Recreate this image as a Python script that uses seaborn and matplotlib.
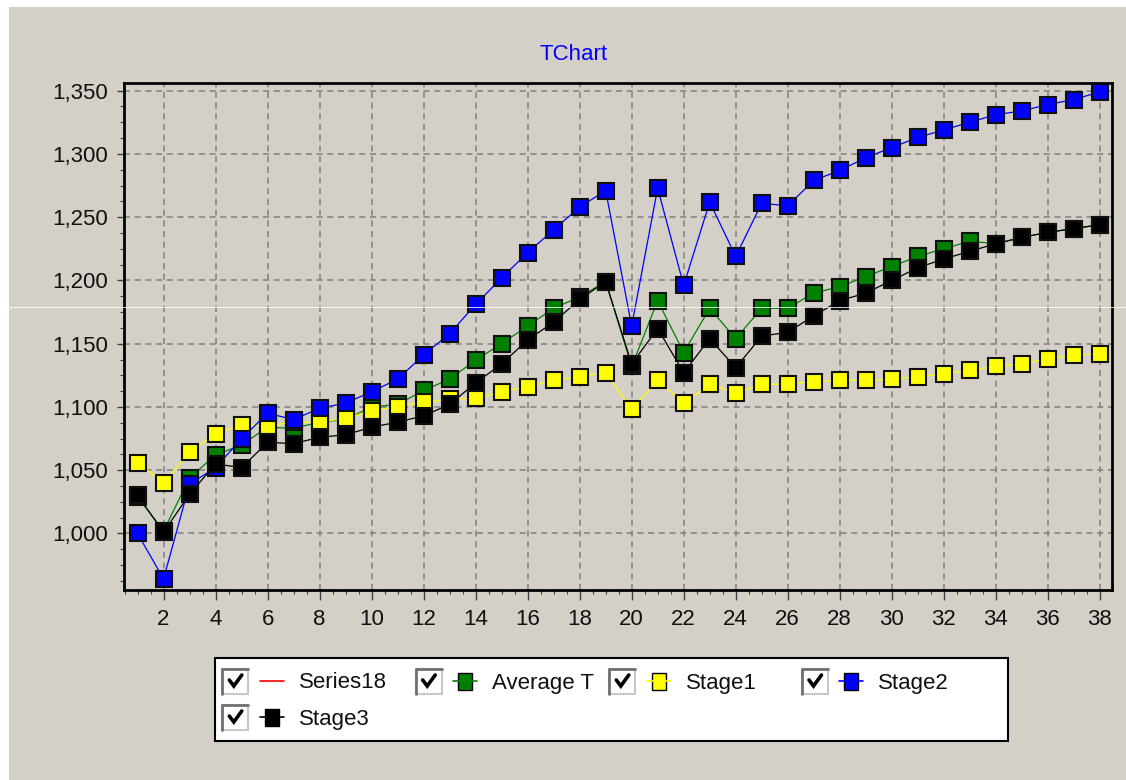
import matplotlib
matplotlib.use("Agg")
import matplotlib.pyplot as plt
from matplotlib.patches import Rectangle
from matplotlib.ticker import AutoMinorLocator, FuncFormatter
import seaborn as sns

# values
points = list(range(1, 39))
series_names = ["Series18", "Average T", "Stage1", "Stage2", "Stage3"]
series18 = []
average_t = [1029, 1002, 1044, 1062, 1070, 1084, 1083, 1088, 1090, 1100,
             1102, 1113, 1122, 1137, 1150, 1164, 1178, 1187, 1199, 1132,
             1184, 1143, 1178, 1154, 1178, 1178, 1190, 1195, 1203, 1211,
             1219, 1225, 1231, 1229, 1234, 1238, 1241, 1244]
stage1 = [1056, 1040, 1064, 1079, 1086, 1085, 1088, 1088, 1091, 1097,
          1100, 1104, 1106, 1107, 1112, 1116, 1121, 1124, 1127, 1098,
          1121, 1103, 1118, 1111, 1118, 1118, 1120, 1121, 1121, 1122,
          1124, 1126, 1129, 1132, 1134, 1138, 1141, 1142]
stage2 = [1000, 964, 1039, 1052, 1075, 1095, 1090, 1099, 1103, 1112,
          1122, 1141, 1158, 1181, 1202, 1222, 1240, 1258, 1271, 1164,
          1273, 1196, 1262, 1219, 1261, 1259, 1279, 1287, 1297, 1305,
          1313, 1319, 1325, 1331, 1334, 1339, 1343, 1349]
stage3 = [1030, 1001, 1031, 1055, 1052, 1072, 1071, 1076, 1078, 1084,
          1088, 1093, 1102, 1119, 1134, 1153, 1167, 1185, 1199, 1134,
          1162, 1127, 1154, 1131, 1156, 1159, 1172, 1184, 1190, 1200,
          1210, 1217, 1223, 1229, 1234, 1238, 1241, 1244]
colors = ["#FF0000", "#008000", "#FFFF00", "#0000FF", "#000000"]

x_ticks = list(range(2, 39, 2))
y_ticks = [1000, 1050, 1100, 1150, 1200, 1250, 1300, 1350]

W, H = 1126, 780
BG = "#D4D0C8"

sns.set_style("ticks")
plt.rcParams['font.family'] = ['Liberation Sans', 'DejaVu Sans']

fig = plt.figure(figsize=(W / 100, H / 100), dpi=100, facecolor=BG)
ax = fig.add_axes([123.5 / W, 1 - 590 / H, (1111.5 - 123.5) / W, (590 - 82.7) / H])
ax.set_facecolor(BG)

all_series = [series18, average_t, stage1, stage2, stage3]
for name, vals, col in zip(series_names, all_series, colors):
    if len(vals) == 0:
        continue
    sns.lineplot(x=points, y=vals, color=col, linewidth=0.9, marker='s',
                 markersize=11.5, markeredgecolor='#101010', markeredgewidth=1.5,
                 ax=ax, legend=False)

ax.set_xlim(0.46, 38.45)
ax.set_ylim(955.3, 1356.3)
ax.set_xticks(x_ticks)
ax.set_yticks(y_ticks)
ax.xaxis.set_minor_locator(AutoMinorLocator(4))
ax.yaxis.set_minor_locator(AutoMinorLocator(4))
ax.yaxis.set_major_formatter(FuncFormatter(lambda v, p: f"{v:,.0f}"))
ax.set_xlabel("")
ax.set_ylabel("")

ax.set_axisbelow(True)
ax.grid(True, which='major', color='#808080', linestyle=(0, (4, 3)), linewidth=1.1)
ax.tick_params(axis='x', which='major', direction='out', length=7, width=1,
               pad=7, labelsize=16, color='#404040', labelcolor='#101010')
ax.tick_params(axis='y', which='major', direction='out', length=5, width=1,
               pad=6, labelsize=16, color='#404040', labelcolor='#101010')
ax.tick_params(which='minor', direction='out', length=3, width=0.8, color='#404040')
for sp in ax.spines.values():
    sp.set_visible(True)
    sp.set_color('black')
    sp.set_linewidth(2)

# overlay in pixel coordinates for title and the TeeChart style legend
ov = fig.add_axes([0, 0, 1, 1])
ov.set_xlim(0, W)
ov.set_ylim(H, 0)
ov.axis('off')
ov.patch.set_alpha(0)

ov.add_patch(Rectangle((0, 0), W, 7, facecolor='white', edgecolor='none'))
ov.add_patch(Rectangle((0, 0), 9, H, facecolor='white', edgecolor='none'))
ov.plot([9, W], [306.5, 306.5], color='white', lw=0.7, alpha=0.8)

ov.text(573.8, 54, "TChart", color='#0000FF', fontsize=16, ha='center', va='center')

ov.add_patch(Rectangle((214.5, 657.5), 793, 83, facecolor='white',
                       edgecolor='black', lw=1.5))

# checkbox x, symbol x, text x, row y
slots = [(222.3, 260, 299, 681), (415.7, 452.5, 492.3, 681),
         (609.3, 646.7, 686, 681), (802, 839, 878, 681),
         (222.3, 260, 299, 717)]
for i, (name, col) in enumerate(zip(series_names, colors)):
    cbx, sx, tx, cy = slots[i]
    ov.add_patch(Rectangle((cbx, cy - 12.5), 26, 25, facecolor='white',
                           edgecolor='#C8C8C8', lw=1.5))
    ov.plot([cbx, cbx, cbx + 26], [cy + 12.5, cy - 12.5, cy - 12.5],
            color='#707070', lw=2)
    ov.plot([cbx + 7, cbx + 11.5, cbx + 19.5], [cy - 1, cy + 5, cy - 6],
            color='black', lw=2.6, solid_joinstyle='miter')
    ov.plot([sx, sx + 24], [cy, cy], color=col, lw=1.2)
    if i > 0:
        ov.add_patch(Rectangle((sx + 5, cy - 8.5), 14, 17, facecolor=col,
                               edgecolor='black', lw=1))
    ov.text(tx, cy + 7.5, name, fontsize=16, ha='left', va='baseline',
            color='#101010')

fig.savefig("out.png", dpi=100, facecolor=BG)
